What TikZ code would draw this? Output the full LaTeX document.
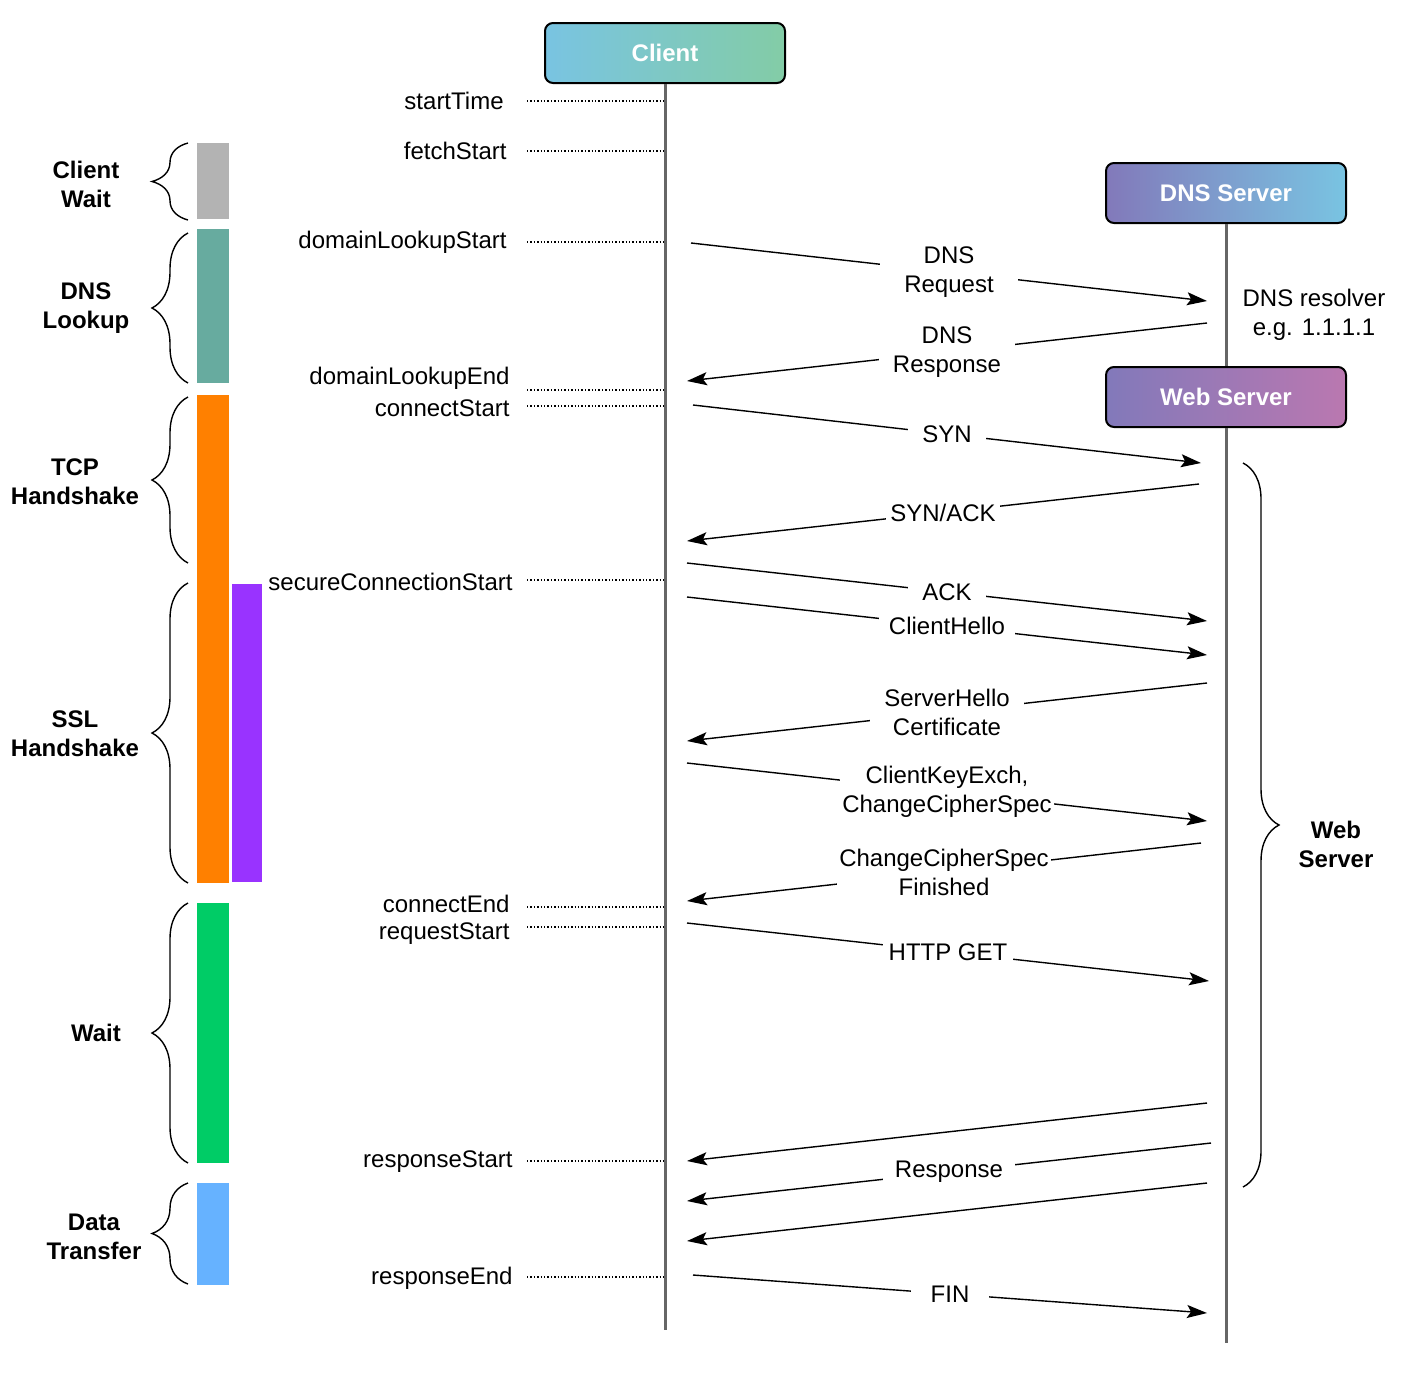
\documentclass[tikz,border=0pt]{standalone}
\usepackage{fontspec}
\setmainfont{Liberation Sans}
\usetikzlibrary{arrows.meta}
\usetikzlibrary{positioning}
\usetikzlibrary{decorations.pathreplacing}
\definecolor{clientleft}{RGB}{121,196,226}
\definecolor{clientright}{RGB}{131,204,166}
\definecolor{serverleft}{RGB}{130,121,186}
\definecolor{webright}{RGB}{186,120,176}
\definecolor{lifegray}{RGB}{102,102,102}
\definecolor{waitgray}{RGB}{179,179,179}
\definecolor{dnsteal}{RGB}{103,171,159}
\definecolor{tcporange}{RGB}{255,128,0}
\definecolor{sslpurple}{RGB}{153,51,255}
\definecolor{ttfbgreen}{RGB}{0,204,102}
\definecolor{xferblue}{RGB}{102,178,255}
\newcommand{\labelfont}{\fontsize{12}{14.5}\selectfont}
\tikzset{
	>={Stealth[length=10pt,width=6.5pt,inset=2pt]},
	lane/.style={
		rectangle,
		rounded corners=4pt,
		draw=black, line width=1pt,
		minimum width=120pt,
		minimum height=30pt,
		text=white,
		font=\labelfont\bfseries},
	life/.style={draw=lifegray, line width=1.5pt},
	tick/.style={draw, densely dotted, line width=0.7pt},
	timing/.style={anchor=east, inner sep=0pt, font=\labelfont},
	phase/.style={align=center, font=\labelfont\bfseries},
	msg/.style={draw, line width=0.7pt, ->},
	msglabel/.style={
		midway,
		fill=white,
		align=center,
		inner xsep=7pt, inner ysep=1pt,
		font=\labelfont},
	decoration={brace, amplitude=18pt},
	tuborg/.style={decorate, line width=0.7pt},
}
\begin{document}
\begin{tikzpicture}[x=0.5pt, y=-0.5pt]
	\useasboundingbox (0,0) rectangle (1402,1382);

	% lanes
	\node[lane, left color=clientleft, right color=clientright] (client) at (665,53) {Client};
	\node[lane, left color=serverleft, right color=clientleft] (dns) at (1226,193) {DNS Server};
	\node[lane, left color=serverleft, right color=webright] (web) at (1226,397) {Web Server};
	\coordinate (client-end) at (665,1330);
	\coordinate (web-end) at (1226,1343);
	\draw[life] (client.south) -- (client-end);
	\draw[life] (dns.south) -- (web.north);
	\draw[life] (web.south) -- (web-end);
	\node[align=center, font=\labelfont] (resolver) at (1314,315) {DNS resolver\\e.g. 1.1.1.1};

	% timing marks
	\node[timing] (tstart) at (504,101) {startTime};
	\node[timing] (tfetch) at (507,151) {fetchStart};
	\node[timing] (tdnsstart) at (507,242) {domainLookupStart};
	\node[timing] (tdnsend) at (510,378) {domainLookupEnd};
	\node[timing] (tconnstart) at (510,408) {connectStart};
	\node[timing] (tsecure) at (513,582) {secureConnectionStart};
	\node[timing] (tconnend) at (510,904) {connectEnd};
	\node[timing] (treqstart) at (510,934) {requestStart};
	\node[timing] (trespstart) at (513,1162) {responseStart};
	\node[timing] (trespend) at (513,1278) {responseEnd};
	\coordinate (m-start) at (527,101);
	\coordinate (m-fetch) at (527,151);
	\coordinate (m-dnsstart) at (527,242);
	\coordinate (m-dnsend) at (527,390);
	\coordinate (m-connstart) at (527,406);
	\coordinate (m-secure) at (527,580);
	\coordinate (m-connend) at (527,907);
	\coordinate (m-reqstart) at (527,927);
	\coordinate (m-respstart) at (527,1161);
	\coordinate (m-respend) at (527,1277);
	\foreach \m in {start,fetch,dnsstart,dnsend,connstart,secure,connend,reqstart,respstart,respend}
		\draw[tick] (m-\m) -- (m-\m -| client);

	% phase bars
	\fill[waitgray] (197,143) rectangle (229,219);
	\fill[dnsteal] (197,229) rectangle (229,383);
	\fill[tcporange] (197,395) rectangle (229,883);
	\fill[sslpurple] (232,584) rectangle (262,882);
	\fill[ttfbgreen] (197,903) rectangle (229,1163);
	\fill[xferblue] (197,1183) rectangle (229,1285);

	% phase braces
	\draw[tuborg] (188,220) -- (188,143);
	\draw[tuborg] (188,383) -- (188,233);
	\draw[tuborg] (188,563) -- (188,397);
	\draw[tuborg] (188,883) -- (188,583);
	\draw[tuborg] (188,1163) -- (188,903);
	\draw[tuborg] (188,1284) -- (188,1183);
	\draw[tuborg] (1243,463) -- (1243,1187);
	\node[phase] (pwait) at (86,184) {Client\\Wait};
	\node[phase] (pdns) at (86,308) {DNS\\Lookup};
	\node[phase] (ptcp) at (75,482) {TCP\\Handshake};
	\node[phase] (pssl) at (75,734) {SSL\\Handshake};
	\node[phase] (pttfb) at (96,1033) {Wait};
	\node[phase] (pxfer) at (94,1237) {Data\\Transfer};
	\node[phase] (pweb) at (1336,844) {Web\\Server};

	% messages
	\coordinate (dnsreq-a) at (691,243);
	\coordinate (dnsreq-b) at (1207,301);
	\coordinate (dnsresp-a) at (1207,323);
	\coordinate (dnsresp-b) at (687,381);
	\coordinate (syn-a) at (693,405);
	\coordinate (syn-b) at (1201,463);
	\coordinate (synack-a) at (1199,484);
	\coordinate (synack-b) at (687,541);
	\coordinate (ack-a) at (687,563);
	\coordinate (ack-b) at (1207,621);
	\coordinate (chello-a) at (687,597);
	\coordinate (chello-b) at (1207,655);
	\coordinate (shello-a) at (1207,683);
	\coordinate (shello-b) at (687,741);
	\coordinate (ckex-a) at (687,763);
	\coordinate (ckex-b) at (1207,821);
	\coordinate (sfin-a) at (1201,843);
	\coordinate (sfin-b) at (687,901);
	\coordinate (get-a) at (687,923);
	\coordinate (get-b) at (1209,981);
	\coordinate (resp1-a) at (1207,1103);
	\coordinate (resp1-b) at (687,1161);
	\coordinate (resp2-a) at (1211,1143);
	\coordinate (resp2-b) at (687,1201);
	\coordinate (resp3-a) at (1207,1183);
	\coordinate (resp3-b) at (687,1241);
	\coordinate (fin-a) at (693,1275);
	\coordinate (fin-b) at (1207,1313);
	\draw[msg] (dnsreq-a) -- node[msglabel, inner xsep=12pt] (ldnsreq) {DNS\\Request} (dnsreq-b);
	\draw[msg] (dnsresp-a) -- node[msglabel] (ldnsresp) {DNS\\Response} (dnsresp-b);
	\draw[msg] (syn-a) -- node[msglabel] (lsyn) {SYN} (syn-b);
	\draw[msg] (synack-a) -- node[msglabel, inner xsep=2pt] (lsynack) {SYN/ACK} (synack-b);
	\draw[msg] (ack-a) -- node[msglabel] (lack) {ACK} (ack-b);
	\draw[msg] (chello-a) -- node[msglabel, inner xsep=5pt] (lchello) {ClientHello} (chello-b);
	\draw[msg] (shello-a) -- node[msglabel] (lshello) {ServerHello\\Certificate} (shello-b);
	\draw[msg] (ckex-a) -- node[msglabel, inner xsep=1pt] (lckex) {ClientKeyExch,\\ChangeCipherSpec} (ckex-b);
	\draw[msg] (sfin-a) -- node[msglabel, inner xsep=1pt] (lsfin) {ChangeCipherSpec\\Finished} (sfin-b);
	\draw[msg] (get-a) -- node[msglabel, inner xsep=3pt] (lget) {HTTP GET} (get-b);
	\draw[msg] (resp1-a) -- (resp1-b);
	\draw[msg] (resp2-a) -- node[msglabel, inner xsep=6pt] (lresp) {Response} (resp2-b);
	\draw[msg] (resp3-a) -- (resp3-b);
	\draw[msg] (fin-a) -- node[msglabel, inner xsep=10pt] (lfin) {FIN} (fin-b);
\end{tikzpicture}
\end{document}
